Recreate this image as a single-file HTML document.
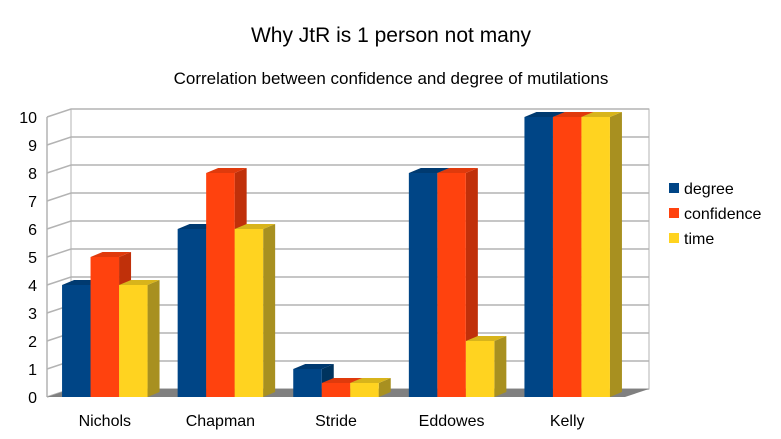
<!DOCTYPE html>
<html><head><meta charset="utf-8"><style>
body{margin:0;background:#fff}
svg{display:block;font-family:"Liberation Sans",sans-serif}
</style></head><body>
<svg id="c" width="781" height="439">
<text x="391" y="42" text-anchor="middle" font-size="21">Why JtR is 1 person not many</text>
<text x="391" y="84" text-anchor="middle" font-size="17">Correlation between confidence and degree of mutilations</text>
<g id="plot"></g>
</svg>
<script>
const categories=["Nichols","Chapman","Stride","Eddowes","Kelly"];
const seriesNames=["degree","confidence","time"];
const degree=[4,6,1,8,10];
const confidence=[5,8,0.5,8,10];
const time=[4,6,0.5,2,10];
const ticks=[0,1,2,3,4,5,6,7,8,9,10];
const NS="http://www.w3.org/2000/svg";
const g=document.getElementById('plot');
function el(t,a){const e=document.createElementNS(NS,t);for(const k in a)e.setAttribute(k,a[k]);g.appendChild(e);return e;}
const fx0=47,fx1=625,fy0=397,fs=28,dx=24,dy=-8;
const yF=v=>fy0-v*fs;
// back wall
const w=el('polygon',{points:`${fx0+dx},${yF(10)+dy} ${fx1+dx},${yF(10)+dy} ${fx1+dx},${fy0+dy} ${fx0+dx},${fy0+dy}`,fill:'#fff',stroke:'#b3b3b3'});


ticks.forEach(t=>{
 const y=yF(t);
 const l=el('polyline',{points:`${fx0},${y} ${fx0+dx},${y+dy} ${fx1+dx},${y+dy}`,fill:'none',stroke:'#b3b3b3','stroke-width':1.5});
 
 
 const tx=el('text',{x:37,y:y+6,'text-anchor':'end','font-size':16});
 tx.textContent=t;
 
 
});
const ax=el('line',{x1:fx0,y1:yF(0),x2:fx0,y2:yF(10),stroke:'#b3b3b3','stroke-width':1.5});


const fl=el('polygon',{points:`${fx0},${fy0} ${fx0+dx},${fy0+dy} ${fx1+dx},${fy0+dy} ${fx1},${fy0}`,fill:'#808080'});


const colors=[['#004586','#00345f','#003a70'],['#ff420e','#c0300a','#e03a0c'],['#ffd320','#a89020','#d8b41b']];
const series=[degree,confidence,time];
const gw=(fx1-fx0)/categories.length, bw=28.5, bdx=12, bdy=-5;
categories.forEach((c,i)=>{
 const gx=fx0+gw*i+(gw-3*bw)/2;
 series.forEach((s,j)=>{
  const x=gx+j*bw, y=yF(s[i]), h=fy0-y;
  const col=colors[j];
  const side=el('polygon',{points:`${x+bw},${y} ${x+bw+bdx},${y+bdy} ${x+bw+bdx},${fy0+bdy} ${x+bw},${fy0}`,fill:col[1]});
  
  
  const top=el('polygon',{points:`${x},${y} ${x+bdx},${y+bdy} ${x+bw+bdx},${y+bdy} ${x+bw},${y}`,fill:col[2]});
  
  
  const r=el('rect',{x:x,y:y,width:bw,height:h,fill:col[0]});
  
  
 });
 const t=el('text',{x:gx+1.5*bw,y:426,'text-anchor':'middle','font-size':16});
 t.textContent=c;
 
 
});
seriesNames.forEach((n,j)=>{
 const y=189+j*25;
 const r=el('rect',{x:669,y:y-6,width:10,height:10,fill:colors[j][0]});
 
 
 const t=el('text',{x:684,y:y+5,'font-size':16});
 t.textContent=n;
 
 
});
</script>
</body></html>
